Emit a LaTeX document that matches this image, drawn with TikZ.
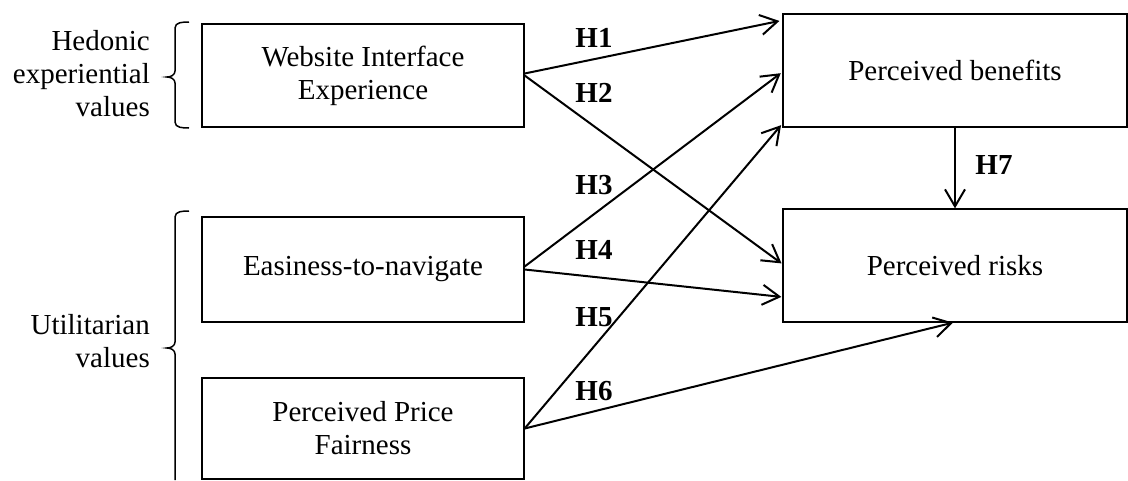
\documentclass[tikz,border=0pt]{standalone}
\usepackage{fontspec}
\setmainfont{Liberation Serif}
\usetikzlibrary{arrows.meta}
\begin{document}
\begin{tikzpicture}[x=1pt,y=-1pt,
  box/.style={draw, line width=1.3pt, inner sep=0pt, align=center,
    font=\fontsize{29}{33}\selectfont},
  lbox/.style={box, minimum width=322pt},
  rbox/.style={box, minimum width=344pt, minimum height=113pt},
  arr/.style={line width=2pt, -{Straight Barb[length=17pt,width=20pt,line width=2pt]}},
  hlab/.style={font=\fontsize{29}{33}\selectfont\bfseries, inner sep=0pt},
  grp/.style={align=right, anchor=east, inner sep=0pt, font=\fontsize{29}{33}\selectfont},
  brk/.style={line width=1.5pt}]
\useasboundingbox (0,0) rectangle (1128,480);

% left boxes
\node[lbox, minimum height=103pt] (wie) at (363,75.5) {Website Interface\\Experience};
\node[lbox, minimum height=105pt] (eas) at (363,269.5) {Easiness-to-navigate};
\node[lbox, minimum height=101pt] (ppf) at (363,428.5) {Perceived Price\\Fairness};

% right boxes
\node[rbox] (pb) at (955,70.5) {Perceived benefits};
\node[rbox] (pr) at (955,265.5) {Perceived risks};

% group labels
\node[grp] (hed) at (150,73.5) {Hedonic\\experiential\\values};
\node[grp] (uti) at (150,341.5) {Utilitarian\\values};

% brackets
\draw[brk] (189,22) to[out=180,in=90] (175,28) -- (175,71)
  to[out=-90,in=0] (167,77) to[out=0,in=90] (175,83) -- (175,122)
  to[out=-90,in=180] (189,128);
\draw[brk] (189,211) to[out=180,in=90] (175,217) -- (175,342)
  to[out=-90,in=0] (167,348) to[out=0,in=90] (175,354) -- (175,480);

% arrows
\draw[arr, shorten >=3pt] ([yshift=2pt]wie.east) -- ([yshift=-7pt]pb.north west);
\draw[arr, shorten >=1pt] (wie.east) -- ([yshift=1.5pt]pr.west);
\draw[arr, shorten >=2pt] ([yshift=3pt]eas.east) -- ([yshift=-1.5pt]pb.west);
\draw[arr, shorten >=1pt] (eas.east) -- ([yshift=-31.5pt]pr.west);
\draw[arr, shorten >=2pt] (ppf.east) -- ([yshift=4pt]pb.south west);
\draw[arr] (ppf.east) -- ([xshift=-2pt]pr.south);
\draw[arr] (pb.south) -- (pr.north);

% hypothesis labels
\node[hlab] (h1) at (594,38) {H1};
\node[hlab] (h2) at (594,93) {H2};
\node[hlab] (h3) at (594,185) {H3};
\node[hlab] (h4) at (594,250) {H4};
\node[hlab] (h5) at (594,317) {H5};
\node[hlab] (h6) at (594,391) {H6};
\node[hlab] (h7) at (994,165) {H7};
\end{tikzpicture}
\end{document}
